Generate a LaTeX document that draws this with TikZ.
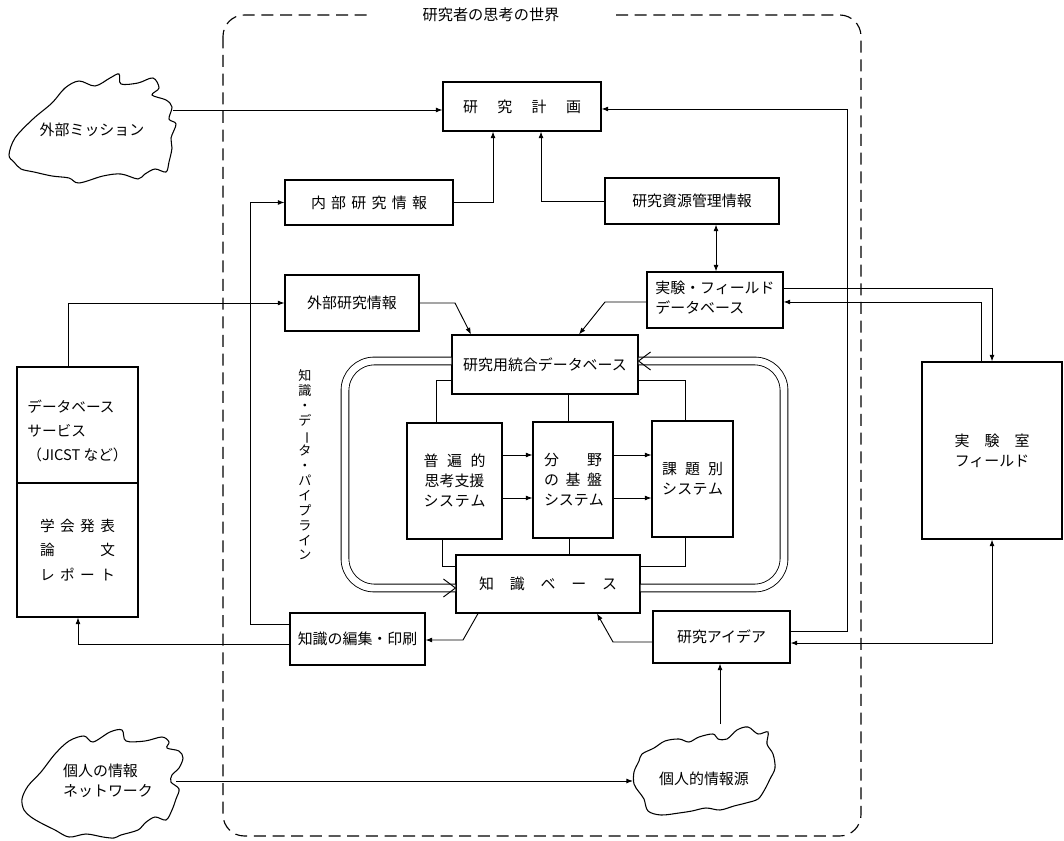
\documentclass[tikz,border=0pt]{standalone}
\usepackage{fontspec}
\newfontfamily\jp{Noto Sans CJK JP}
\usetikzlibrary{arrows.meta,calc}
\newdimen\px \px=0.75pt
\begin{document}
\begin{tikzpicture}[x=0.75pt,y=-0.75pt,
  box/.style={draw,line width=0.85pt,inner sep=0pt,align=center,font=\jp\fontsize{11.2pt}{15pt}\selectfont},
  wh/.style 2 args={minimum width=#1\px,minimum height=#2\px},
  txt/.style={inner sep=0pt,align=center,font=\jp\fontsize{11.2pt}{15pt}\selectfont},
  ln/.style={line width=0.7pt},
  arr/.style={ln,-{Latex[length=5pt,width=3.8pt]}},
  darr/.style={ln,{Latex[length=5pt,width=3.8pt]}-{Latex[length=5pt,width=3.8pt]}},
  frame/.style={line width=0.85pt,dash pattern=on 9pt off 5pt},
  pipe/.style={line width=0.65pt,double,double distance=5.2pt,rounded corners=22pt},
  cloudline/.style={line width=0.8pt},
]
\useasboundingbox (0,0) rectangle (1064,841);

% world frame
\draw[frame,rounded corners=16pt] (223,15) rectangle (861,836);
\node[txt,fill=white,inner xsep=40pt,inner ysep=3pt,font=\jp\fontsize{11.4pt}{14pt}\selectfont] (title) at (491,15) {研究者の思考の世界};

% boxes
\node[box,wh={158}{49}] (plan) at (522,106.5) {\makebox[118\px][s]{研\hfill 究\hfill 計\hfill 画}};
\node[box,wh={168}{45}] (naibu) at (369,202.5) {\makebox[116\px][s]{内\hfill 部\hfill 研\hfill 究\hfill 情\hfill 報}};
\node[box,wh={174}{46}] (shigen) at (692,201) {研究資源管理情報};
\node[box,wh={134}{56}] (gaibu) at (352,303) {外部研究情報};
\node[box,wh={136}{56}] (jdb) at (715,300) {\begin{tabular}{@{}l@{}}実験・フィールド\\データベース\end{tabular}};
\node[box,wh={186}{59}] (tdb) at (545,364.5) {研究用統合データベース};
\node[box,wh={95}{116}] (fuhen) at (454.5,481) {\makebox[62\px][s]{普\hfill 遍\hfill 的}\\思考支援\\\makebox[62\px][s]{シ\hfill ス\hfill テ\hfill ム}};
\node[box,wh={80}{116}] (bunya) at (573,480) {\makebox[58\px][s]{分\hfill 野}\\\makebox[58\px][s]{の\hfill 基\hfill 盤}\\\makebox[58\px][s]{シ\hfill ス\hfill テ\hfill ム}};
\node[box,wh={81}{116}] (kadai) at (692.5,479) {\makebox[61\px][s]{課\hfill 題\hfill 別}\\\makebox[61\px][s]{シ\hfill ス\hfill テ\hfill ム}};
\node[box,wh={184}{58}] (kb) at (548,584) {\makebox[138\px][s]{知\hfill 識\hfill ベ\hfill ー\hfill ス}};
\node[box,wh={135}{52}] (henshu) at (357.5,639) {知識の編集・印刷};
\node[box,wh={137}{52}] (idea) at (721.5,637) {研究アイデア};
\node[box,wh={121}{116},font=\jp\fontsize{11pt}{18pt}\selectfont] (dbsU) at (77.5,425) {\begin{tabular}{@{}l@{}}\rule{0pt}{23pt}データベース\\サービス\\（JICST など）\end{tabular}};
\node[box,wh={121}{134},font=\jp\fontsize{11pt}{18.5pt}\selectfont] (dbsL) at (77.5,550) {\makebox[75\px][s]{学\hfill 会\hfill 発\hfill 表}\\\makebox[75\px][s]{論\hfill 文}\\\makebox[75\px][s]{レ\hfill ポ\hfill ー\hfill ト}};
\node[box,wh={140}{177}] (lab) at (992,450.5) {\makebox[75\px][s]{実\hfill 験\hfill 室}\\フィールド};

% clouds
\draw[cloudline] plot[smooth cycle,tension=0.55] coordinates {(9,155) (15,138) (33,119) (52,103) (65,88) (79,81) (95,86) (110,78) (119,74) (121,84) (138,83) (153,78) (159,88) (152,95) (166,100) (172,107) (169,119) (176,124) (171,138) (172,148) (169,162) (166,172) (155,169) (145,174) (138,179) (121,174) (103,176) (79,183) (69,178) (52,176) (34,172) (21,169) (14,162)};
\node[txt] (mission) at (92,130) {外部ミッション};

\draw[cloudline] plot[smooth cycle,tension=0.55] coordinates {(22,799) (28,786) (41,772) (55,754) (69,741) (84,736) (93,742) (110,732) (122,730) (126,741) (145,741) (162,737) (169,742) (167,748) (179,751) (183,758) (179,768) (172,775) (171,782) (179,789) (176,799) (172,810) (166,820) (155,817) (145,823) (138,830) (121,835) (114,838) (103,837) (86,834) (69,837) (55,830) (41,823) (31,817) (24,810)};
\node[txt] (network) at (108,782) {\begin{tabular}{@{}l@{}}個人の情報\\ネットワーク\end{tabular}};

\draw[cloudline] plot[smooth cycle,tension=0.55] coordinates {(634,772) (639,761) (642,754) (654,748) (665,741) (679,739) (689,742) (699,737) (713,734) (718,739) (727,739) (737,730) (748,727) (758,734) (768,732) (767,744) (773,754) (775,768) (770,779) (765,789) (758,799) (746,803) (734,806) (720,810) (706,808) (692,811) (679,813) (661,815) (648,811) (644,799) (639,792) (634,784)};
\node[txt] (source) at (704,779) {個人的情報源};

% pipeline label (vertical)
\node[txt,font=\jp\fontsize{9.8pt}{11.2pt}\selectfont] (pipelabel) at (305,465) {知\\識\\・\\デ\\\rotatebox[origin=c]{-90}{ー}\\タ\\・\\パ\\イ\\プ\\ラ\\イ\\ン};

% helper coordinates
\coordinate (m1) at (173,110);
\coordinate (a1) at (493,0);
\coordinate (a2) at (541,0);
\coordinate (a3) at (716,0);
\coordinate (r1) at (847,631);
\coordinate (r2) at (847,109);
\coordinate (a4) at (0,288);
\coordinate (a5) at (981,302);
\coordinate (a6) at (0,643);
\coordinate (a7) at (68,303);
\coordinate (a8) at (250,624);
\coordinate (a9) at (78,644);
\coordinate (b1) at (478,0);
\coordinate (b2) at (463,640);
\coordinate (b3) at (613,642);
\coordinate (b4) at (597,0);
\coordinate (b5) at (455,303);
\coordinate (b6) at (471,0);
\coordinate (b7) at (605,302);
\coordinate (b8) at (579,0);
\coordinate (c1) at (436,380);
\coordinate (c2) at (568,0);
\coordinate (c3) at (685,380);
\coordinate (c4) at (442,566);
\coordinate (c5) at (569,0);
\coordinate (c6) at (685,566);
\coordinate (d1) at (0,455);
\coordinate (d2) at (0,498);
\coordinate (e1) at (784,361);
\coordinate (e2) at (784,588);
\coordinate (e3) at (345,361);
\coordinate (e4) at (345,588);
\coordinate (cs1) at (720,724);
\coordinate (n0) at (176,781);
\coordinate (n1) at (633,781);

% connectors
\draw[arr] (m1) -- (m1 -| plan.west);
\draw[arr] (naibu.east) -| (plan.south -| a1);
\draw[arr] (shigen.west) -| (plan.south -| a2);
\draw[darr] (shigen.south -| a3) -- (jdb.north -| a3);
\draw[arr] (idea.east |- r1) -- (r1) -- (r2) -- (plan.east |- r2);
\draw[arr] (jdb.east |- a4) -| (lab.north);
\draw[arr] (lab.north -| a5) |- (jdb.east |- a5);
\draw[darr] (idea.east |- a6) -| (lab.south);
\draw[arr] (dbsU.north -| a7) |- (gaibu.west);
\draw[arr] (henshu.west |- a8) -- (a8) |- (naibu.west);
\draw[arr] (henshu.west |- a9) -| (dbsL.south -| a9);
\draw[arr] (kb.south -| b1) -- (b2) -- (henshu.east |- b2);
\draw[arr] (idea.west |- b3) -- (b3) -- (kb.south -| b4);
\draw[arr] (gaibu.east |- b5) -- (b5) -- (tdb.north -| b6);
\draw[arr] (jdb.west |- b7) -- (b7) -- (tdb.north -| b8);
\draw[arr] (cs1) -- (idea.south -| cs1);
\draw[arr] (n0) -- (n1);

\draw[ln] (tdb.west |- c1) -| (fuhen.north -| c1);
\draw[ln] (tdb.south -| c2) -- (bunya.north -| c2);
\draw[ln] (tdb.east |- c3) -| (kadai.north -| c3);
\draw[ln] (fuhen.south -| c4) |- (kb.west |- c4);
\draw[ln] (bunya.south -| c5) -- (kb.north -| c5);
\draw[ln] (kadai.south -| c6) |- (kb.east |- c6);

\draw[arr] (fuhen.east |- d1) -- (bunya.west |- d1);
\draw[arr] (fuhen.east |- d2) -- (bunya.west |- d2);
\draw[arr] (bunya.east |- d1) -- (kadai.west |- d1);
\draw[arr] (bunya.east |- d2) -- (kadai.west |- d2);

% pipeline loop
\draw[pipe] (kb.east |- e2) -- (e2) -- (e1) -- (tdb.east |- e1);
\draw[pipe] (tdb.west |- e3) -- (e3) -- (e4) -- (kb.west |- e4);
\coordinate (t1) at (tdb.east |- e1);
\coordinate (t2) at (kb.west |- e4);
\draw[ln] ([shift={(12,-9)}]t1) -- (t1) -- ([shift={(12,9)}]t1);
\draw[ln] ([shift={(-12,-9)}]t2) -- (t2) -- ([shift={(-12,9)}]t2);
\end{tikzpicture}
\end{document}
